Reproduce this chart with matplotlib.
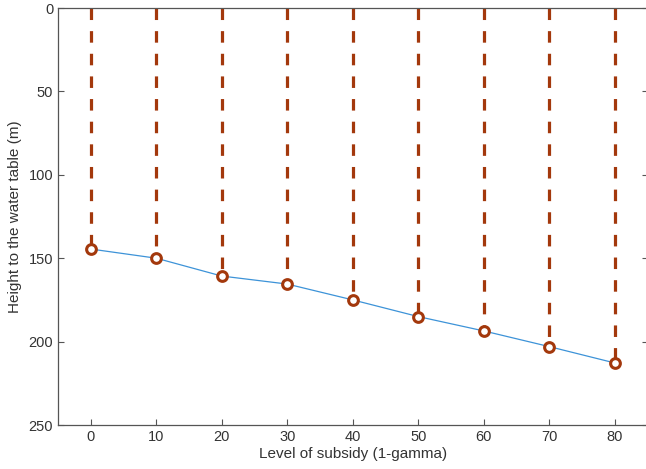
import matplotlib.pyplot as plt

subsidy = [0, 10, 20, 30, 40, 50, 60, 70, 80]
height = [144.5, 150, 160.7, 165.5, 175, 185, 193.6, 203, 212.8]

x_ticks = [0, 10, 20, 30, 40, 50, 60, 70, 80]
y_ticks = [0, 50, 100, 150, 200, 250]

plt.rcParams['font.family'] = ['Liberation Sans', 'DejaVu Sans']
plt.rcParams['lines.scale_dashes'] = False

rust = '#a3380c'
blue = '#3d93d8'
grey = '#555555'

fig = plt.figure(figsize=(6.46, 4.69), dpi=100)
ax = fig.add_axes([58 / 646, 44 / 469, 589.5 / 646, 417 / 469])

for xi, hi in zip(subsidy, height):
    ax.plot([xi, xi], [0, hi], color=rust, linewidth=2.3,
            dashes=(8.3, 8.0), solid_capstyle='butt', zorder=2)
ax.plot(subsidy, height, color=blue, linewidth=0.9, zorder=3)
ax.plot(subsidy, height, linestyle='none', marker='o', markersize=7,
        markerfacecolor='white', markeredgecolor=rust,
        markeredgewidth=2.2, zorder=4)

ax.set_xlim(-5, 85)
ax.set_ylim(250, 0)
ax.set_xticks(x_ticks)
ax.set_yticks(y_ticks)
ax.tick_params(direction='in', length=4, width=0.8, color=grey,
               labelcolor='#333333', labelsize=10.5,
               top=True, right=True)
for s in ax.spines.values():
    s.set_color(grey)
    s.set_linewidth(0.9)

ax.set_xlabel('Level of subsidy (1-gamma)', fontsize=11, color='#333333', labelpad=2)
ax.set_ylabel('Height to the water table (m)', fontsize=11, color='#333333', labelpad=5)

fig.savefig('out.png', dpi=100)
